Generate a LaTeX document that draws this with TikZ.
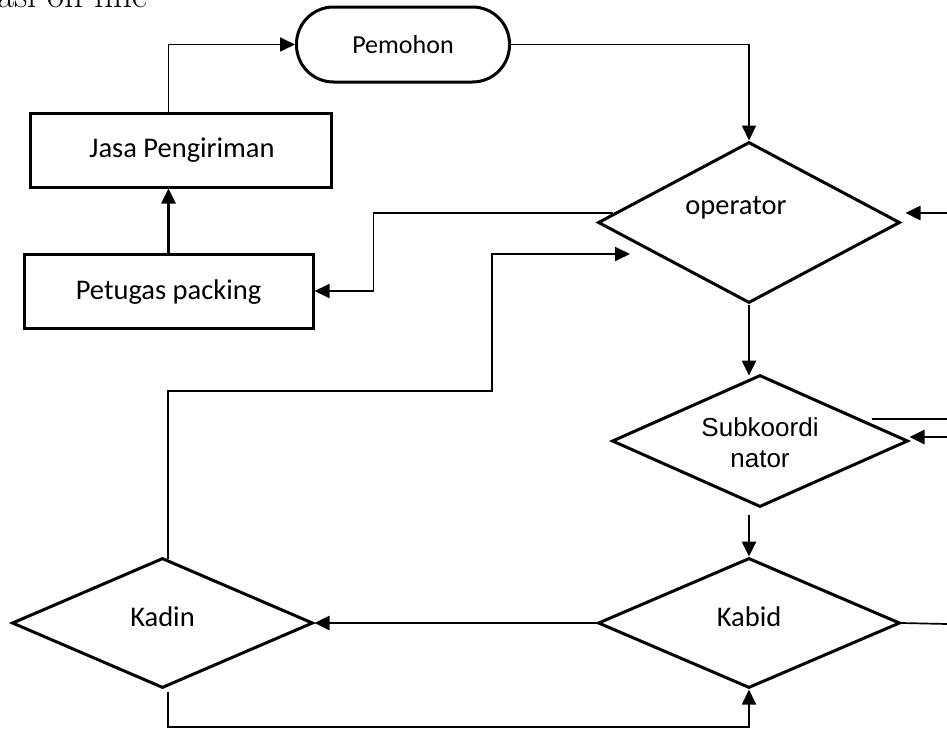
\documentclass[tikz,border=0pt]{standalone}
\usepackage{fontspec}
\usetikzlibrary{arrows.meta,shapes.geometric,calc}
\newfontfamily\calfont{Carlito}
\newfontfamily\arfont{Liberation Sans}
\begin{document}
\begin{tikzpicture}[x=1pt,y=-1pt,
  shapeline/.style={draw=black, line width=3pt, fill=white, inner sep=0pt},
  rectbox/.style={shapeline, rectangle},
  termbox/.style={shapeline, rectangle, rounded corners=37pt, minimum width=213pt, minimum height=75pt},
  dia/.style={shapeline, diamond},
  lbl/.style={font=\calfont\fontsize{28.5}{32}\selectfont, inner sep=0pt},
  thinln/.style={draw=black, line width=1.7pt},
  thickln/.style={draw=black, line width=2.6pt},
  tip/.style={-{Triangle[length=15pt,width=14pt]}},
]
\useasboundingbox (0,0) rectangle (947,728);
\fill[white] (0,0) rectangle (947,728);

% cut-off heading text
\node[anchor=base west, inner sep=0pt, font=\fontsize{37}{40}\selectfont] (head) at (-3,8) {asi on line};

% nodes
\node[termbox] (pem) at (403,44.5) {};
\node[lbl, font=\calfont\fontsize{26}{30}\selectfont] (pemt) at (403,45) {Pemohon};

\node[rectbox, minimum width=301pt, minimum height=74pt] (jasa) at (180.5,150) {};
\node[lbl] (jasat) at (182,150) {Jasa Pengiriman};

\node[rectbox, minimum width=289pt, minimum height=74pt] (pet) at (168.5,291) {};
\node[lbl] (pett) at (168.5,292) {Petugas packing};

\node[dia, minimum width=302pt, minimum height=161pt] (op) at (749,222.5) {};
\node[lbl] (opt) at (736,208) {operator};

\node[dia, minimum width=296pt, minimum height=132pt] (sub) at (760,441) {};
\node[inner sep=0pt, align=center, font=\arfont\fontsize{26}{31}\selectfont] (subt) at (760,443) {Subkoordi\\nator};

\node[dia, minimum width=302pt, minimum height=130pt] (kab) at (749,623) {};
\node[lbl] (kabt) at (749,617) {Kabid};

\node[dia, minimum width=301pt, minimum height=130pt] (kad) at (162.5,623) {};
\node[lbl] (kadt) at (162.5,617) {Kadin};

% free ends on the right edge
\coordinate (opin) at (947,213);
\coordinate (subout) at (947,419);
\coordinate (subin) at (947,437);
\coordinate (kabout) at (947,624);
\coordinate (optip) at (630,254);

% connectors
\draw[thickln, tip] (pet.north) -- (pet.north |- jasa.south);
\draw[thinln, tip] (jasa.north -| pet.north) |- (pem.west);
\draw[thinln, tip] (pem.east) -| (op.north);
\draw[thickln, tip] (opin) -- ([xshift=4pt]op.east |- opin);
\draw[thinln, tip] ([xshift=16pt,yshift=9.5pt]op.west) -| ([xshift=59pt]pet.east) -- (pet.east);
\draw[thinln, tip] ([xshift=5.5pt,yshift=-2pt]kad.north) |- (492,391) |- (optip);
\draw[thickln, tip] (op.south) -- ($(op.south |- sub.north)+(0,2)$);
\draw[thinln] ([xshift=-38pt,yshift=22pt]sub.east) -- (subout);
\draw[thickln, tip] (subin) -- (sub.east |- subin);
\draw[thickln, tip] ($(kab.north |- sub.south)+(0,6)$) -- (kab.north);
\draw[thinln] (kab.east) -- (kabout);
\draw[thickln, tip] (kab.west) -- (kad.east);
\draw[thinln, tip] ([xshift=5.5pt,yshift=-2pt]kad.south) -- ++(0,35.5) -| (kab.south);
\end{tikzpicture}
\end{document}
